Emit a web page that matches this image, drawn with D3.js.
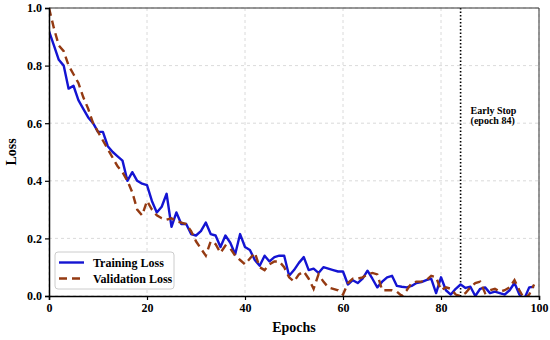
<!DOCTYPE html>
<html>
<head>
	<meta charset="utf-8">
	<script src="https://cdn.jsdelivr.net/npm/d3@7/dist/d3.min.js"></script>
	<style>
		body { margin: 0; background: #fff; }
		text { font-family: "Liberation Serif", "Times New Roman", serif; font-weight: bold; }
		.grid line { stroke: #d0d0d0; stroke-width: .8px; stroke-dasharray: 3,3; }
	</style>
</head>
<body>
<svg id="chart" width="550" height="340"></svg>
<script>
// epochs 0..99
var epochs = d3.range(0, 100);

var trainLoss = [
	0.92, 0.87, 0.82, 0.80, 0.72, 0.73, 0.68, 0.65, 0.62, 0.60,
	0.57, 0.57, 0.52, 0.50, 0.485, 0.47, 0.40, 0.43, 0.40, 0.39,
	0.385, 0.33, 0.29, 0.31, 0.355, 0.24, 0.29, 0.25, 0.25, 0.215,
	0.21, 0.225, 0.255, 0.215, 0.21, 0.17, 0.21, 0.185, 0.145, 0.215,
	0.17, 0.16, 0.125, 0.105, 0.14, 0.12, 0.135, 0.14, 0.14, 0.07,
	0.09, 0.115, 0.135, 0.09, 0.095, 0.08, 0.10, 0.095, 0.09, 0.085,
	0.085, 0.04, 0.055, 0.045, 0.06, 0.088, 0.06, 0.03, 0.05, 0.065,
	0.07, 0.035, 0.032, 0.03, 0.035, 0.045, 0.048, 0.055, 0.06, 0.01,
	0.065, 0.02, 0.005, 0.025, 0.04, 0.028, 0.032, 0.0, 0.025, 0.03,
	0.01, 0.015, 0.01, 0.005, 0.02, 0.045, 0.005, -0.01, 0.03, 0.032
];

var valLoss = [
	1.00, 0.93, 0.87, 0.85, 0.80, 0.77, 0.74, 0.69, 0.65, 0.60,
	0.57, 0.54, 0.51, 0.48, 0.45, 0.43, 0.40, 0.36, 0.30, 0.28,
	0.33, 0.30, 0.28, 0.27, 0.265, 0.27, 0.26, 0.255, 0.25, 0.225,
	0.19, 0.165, 0.14, 0.19, 0.18, 0.15, 0.175, 0.165, 0.14, 0.125,
	0.11, 0.13, 0.15, 0.10, 0.09, 0.11, 0.12, 0.12, 0.10, 0.065,
	0.05, 0.075, 0.085, 0.06, 0.025, 0.075, 0.05, 0.03, 0.025, 0.02,
	0.005, 0.045, 0.06, 0.06, 0.065, 0.075, 0.08, 0.075, 0.02, 0.02,
	0.02, 0.015, 0.0, 0.02, 0.045, 0.05, 0.05, 0.055, 0.07, 0.065,
	0.02, 0.03, 0.025, 0.005, 0.0, 0.01, 0.03, 0.045, 0.05, 0.01,
	0.02, 0.025, 0.015, 0.02, 0.03, 0.055, 0.02, -0.01, 0.005, 0.04
];

var xTicks = [0, 20, 40, 60, 80, 100];
var yTicks = [0.0, 0.2, 0.4, 0.6, 0.8, 1.0];
var earlyStop = 84;

var svg = d3.select('#chart');
var pL = 49, pR = 539, pT = 8, pB = 296;  // plot box

var x = d3.scaleLinear().domain([0, 100]).range([pL, pR]);
var y = d3.scaleLinear().domain([0, 1]).range([pB, pT]);

svg.append('defs').append('clipPath').attr('id', 'clip')
	.append('rect')
	.attr('x', pL).attr('y', pT - 1)
	.attr('width', pR - pL).attr('height', pB - pT + 1);

// grid
var grid = svg.append('g').attr('class', 'grid');
grid.selectAll('.gx').data(xTicks).enter().append('line')
	.attr('x1', d => x(d)).attr('x2', d => x(d))
	.attr('y1', pT).attr('y2', pB);
grid.selectAll('.gy').data(yTicks).enter().append('line')
	.attr('x1', pL).attr('x2', pR)
	.attr('y1', d => y(d)).attr('y2', d => y(d));

// early stop marker
svg.append('line')
	.attr('x1', x(earlyStop)).attr('x2', x(earlyStop))
	.attr('y1', pT).attr('y2', pB)
	.attr('stroke', '#000').attr('stroke-width', 1.6)
	.attr('stroke-dasharray', '1.5,2');

svg.append('text')
	.attr('x', x(earlyStop) + 10).attr('y', 114)
	.attr('font-size', 10).text('Early Stop');
svg.append('text')
	.attr('x', x(earlyStop) + 10).attr('y', 124)
	.attr('font-size', 10).text('(epoch 84)');

// lines
var plot = svg.append('g').attr('clip-path', 'url(#clip)');

var line = d3.line()
	.x((d, i) => x(epochs[i]))
	.y(d => y(d));

plot.append('path')
	.datum(trainLoss)
	.attr('fill', 'none')
	.attr('stroke', '#1414d2')
	.attr('stroke-width', 2.4)
	.attr('stroke-linejoin', 'round')
	.attr('d', line);

plot.append('path')
	.datum(valLoss)
	.attr('fill', 'none')
	.attr('stroke', '#943a12')
	.attr('stroke-width', 2.4)
	.attr('stroke-dasharray', '8,5')
	.attr('d', line);

// frame
svg.append('line').attr('x1', pL).attr('x2', pR).attr('y1', pT).attr('y2', pT)
	.attr('stroke', '#333').attr('stroke-width', 1);
svg.append('line').attr('x1', pR).attr('x2', pR).attr('y1', pT).attr('y2', pB)
	.attr('stroke', '#333').attr('stroke-width', 1);

// axes
var xAxis = svg.append('g')
	.attr('transform', 'translate(0,' + pB + ')')
	.call(d3.axisBottom(x).tickValues(xTicks).tickSize(4).tickPadding(3).tickFormat(d3.format('d')));
var yAxis = svg.append('g')
	.attr('transform', 'translate(' + pL + ',0)')
	.call(d3.axisLeft(y).tickValues(yTicks).tickSize(4).tickPadding(3).tickFormat(d3.format('.1f')));

[xAxis, yAxis].forEach(a => {
	a.select('.domain').attr('stroke', '#000').attr('stroke-width', 1.5);
	a.selectAll('.tick line').attr('stroke', '#000').attr('stroke-width', 1.2);
	a.selectAll('.tick text').attr('fill', '#000').attr('font-size', 12)
		.attr('font-family', '"Liberation Serif", serif').attr('font-weight', 'bold');
});

// axis labels
svg.append('text')
	.attr('x', (pL + pR) / 2).attr('y', 332)
	.attr('text-anchor', 'middle').attr('font-size', 14)
	.text('Epochs');
svg.append('text')
	.attr('transform', 'translate(16,' + ((pT + pB) / 2) + ') rotate(-90)')
	.attr('text-anchor', 'middle').attr('font-size', 14)
	.text('Loss');

// legend
var lg = svg.append('g');
lg.append('rect')
	.attr('x', 55).attr('y', 252).attr('width', 119).attr('height', 37)
	.attr('rx', 3)
	.attr('fill', '#fff').attr('fill-opacity', 0.85)
	.attr('stroke', '#ccc');
var items = [
	{ name: 'Training Loss', color: '#1414d2', dash: null },
	{ name: 'Validation Loss', color: '#943a12', dash: '8,5' }
];
items.forEach((it, i) => {
	var yy = 262.5 + i * 16;
	lg.append('line')
		.attr('x1', 59).attr('x2', 84).attr('y1', yy).attr('y2', yy)
		.attr('stroke', it.color).attr('stroke-width', 2.4)
		.attr('stroke-dasharray', it.dash);
	lg.append('text')
		.attr('x', 93).attr('y', yy + 4)
		.attr('font-size', 12).text(it.name);
});
</script>
</body>
</html>
